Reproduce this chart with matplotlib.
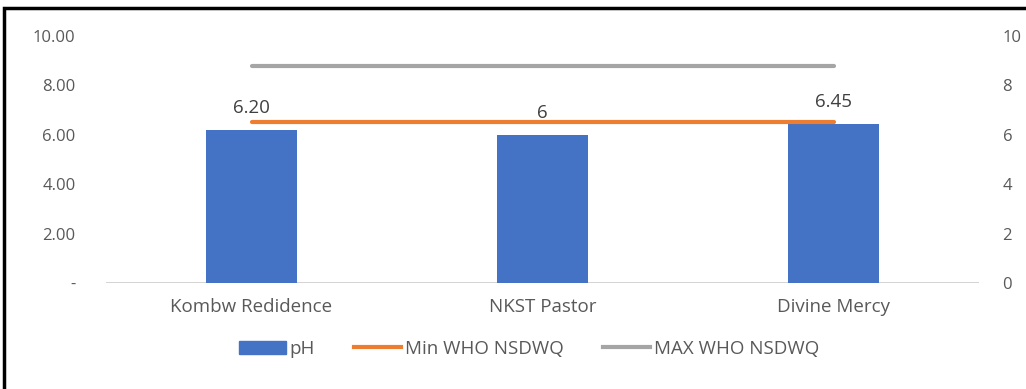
import matplotlib
matplotlib.use("Agg")
import matplotlib.pyplot as plt
from matplotlib.patches import Rectangle
from matplotlib.lines import Line2D
import numpy as np

plt.rcParams['font.family'] = ['Open Sans', 'DejaVu Sans']

sites = ["Kombw Redidence", "NKST Pastor", "Divine Mercy"]
ph_values = [6.20, 6.00, 6.45]
ph_labels = ["6.20", "6", "6.45"]
who_min = [6.5, 6.5, 6.5]
who_max = [8.8, 8.8, 8.8]
left_ticks = [0, 2, 4, 6, 8, 10]
left_ticklabels = ["-", "2.00", "4.00", "6.00", "8.00", "10.00"]
right_ticks = [0, 2, 4, 6, 8, 10]

BLUE = "#4472C4"
ORANGE = "#ED7D31"
GRAY = "#A5A5A5"
TEXT = "#595959"

W, H = 1026, 389
fig = plt.figure(figsize=(W / 100, H / 100), dpi=100)

# outer frame
fig.patches.append(Rectangle((4 / W, -0.1), 1.2, (H - 8) / H + 0.1,
                             transform=fig.transFigure, fill=False,
                             edgecolor="black", linewidth=2.5))

x0, x1 = 106 / W, 979 / W
y0, y1 = (H - 283) / H, (H - 36) / H
ax = fig.add_axes([x0, y0, x1 - x0, y1 - y0])
ax2 = ax.twinx()

x = np.arange(len(sites))
ax.bar(x, ph_values, width=0.315, color=BLUE, zorder=2, label="pH")
for xi, v, lab in zip(x, ph_values, ph_labels):
    ax.annotate(lab, (xi, v), xytext=(0, 9), textcoords="offset points",
                ha="center", va="bottom", fontsize=13.5, color="#404040")

ax2.plot(x, who_min, color=ORANGE, linewidth=3, solid_capstyle="round",
         zorder=3, label="Min WHO NSDWQ")
ax2.plot(x, who_max, color=GRAY, linewidth=3, solid_capstyle="round",
         zorder=3, label="MAX WHO NSDWQ")

for a in (ax, ax2):
    a.set_ylim(0, 10)
    a.set_xlim(-0.5, len(sites) - 0.5)
    for s in a.spines.values():
        s.set_visible(False)
    a.tick_params(length=0, labelsize=12, labelcolor=TEXT)

ax.axhline(0, color="#D0D0D0", linewidth=1.3, zorder=1)
ax.set_yticks(left_ticks)
ax.set_yticklabels(left_ticklabels)
ax.tick_params(axis="y", pad=22)
ax.set_xticks(x)
ax.set_xticklabels(sites, fontsize=13.5)
ax.tick_params(axis="x", pad=11)
ax2.set_yticks(right_ticks)
ax2.set_yticklabels([str(t) for t in right_ticks])
ax2.tick_params(axis="y", pad=17)

handles = [Rectangle((0, 0), 1, 1, color=BLUE),
           Line2D([], [], color=ORANGE, linewidth=3),
           Line2D([], [], color=GRAY, linewidth=3)]
labels = ["pH", "Min WHO NSDWQ", "MAX WHO NSDWQ"]
fig.legend(handles, labels, loc="center", bbox_to_anchor=(529 / W, (H - 349) / H),
           ncol=3, frameon=False, fontsize=13.5, labelcolor=TEXT,
           handlelength=2.5, handleheight=0.7, handletextpad=0.2,
           columnspacing=2.1)

fig.savefig("out.png", dpi=100)
